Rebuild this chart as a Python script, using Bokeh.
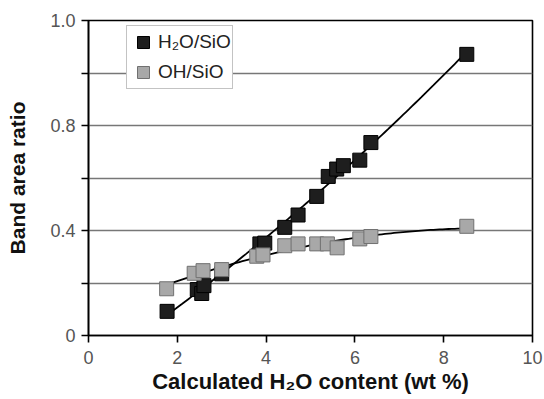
import numpy as np
from bokeh.plotting import figure
from bokeh.models import FixedTicker, Legend, LegendItem
from bokeh.embed import file_html
from bokeh.resources import INLINE

# H2O/SiO series (black squares)
h2o_x = [1.77, 2.45, 2.55, 2.60, 3.00, 3.86, 3.97, 4.42, 4.72, 5.14, 5.40, 5.59, 5.74, 6.11, 6.36, 8.52]
h2o_y = [0.092, 0.175, 0.160, 0.190, 0.235, 0.349, 0.352, 0.412, 0.459, 0.530, 0.606, 0.634, 0.647, 0.668, 0.735, 1.071]

# OH/SiO series (grey squares)
oh_x = [1.76, 2.38, 2.58, 3.00, 3.79, 3.93, 4.42, 4.72, 5.14, 5.38, 5.60, 6.11, 6.36, 8.52]
oh_y = [0.178, 0.237, 0.247, 0.251, 0.302, 0.307, 0.342, 0.349, 0.349, 0.349, 0.334, 0.368, 0.377, 0.416]

x_ticks = [0, 2, 4, 6, 8, 10]
y_ticks = [0, 0.2, 0.4, 0.6, 0.8, 1.0, 1.2]
y_tick_labels = ["0", "", "0.4", "", "0.8", "", "1.0"]

FONT = "Liberation Sans"

p = figure(frame_width=444, frame_height=315, output_backend="svg", toolbar_location=None,
           x_range=(0, 10), y_range=(0, 1.2),
           min_border_left=88, min_border_right=12, min_border_top=20, min_border_bottom=64)

p.background_fill_color = "white"
p.border_fill_color = "white"
p.outline_line_color = "black"
p.outline_line_width = 1.6

# grid
p.xgrid.visible = False
p.ygrid.ticker = FixedTicker(ticks=y_ticks)
p.ygrid.grid_line_color = "#777777"
p.ygrid.grid_line_width = 1.3

# axes
for ax in (p.xaxis[0], p.yaxis[0]):
    ax.axis_line_color = "black"
    ax.axis_line_width = 1.6
    ax.major_tick_line_color = "black"
    ax.major_tick_line_width = 1.6
    ax.major_tick_in = 0
    ax.major_tick_out = 7
    ax.minor_tick_line_color = None
    ax.major_label_text_font = FONT
    ax.major_label_text_font_size = "18px"
    ax.major_label_text_color = "#555555"
    ax.axis_label_text_font = FONT
    ax.axis_label_text_font_style = "bold"
    ax.axis_label_text_color = "#111111"

p.xaxis.ticker = FixedTicker(ticks=x_ticks)
p.yaxis.ticker = FixedTicker(ticks=y_ticks)
p.yaxis.major_label_overrides = {t: l for t, l in zip(y_ticks, y_tick_labels)}

p.xaxis.axis_label = "Calculated H\u2082O content (wt %)"
p.yaxis.axis_label = "Band area ratio"
p.xaxis.axis_label_text_font_size = "22px"
p.yaxis.axis_label_text_font_size = "21px"
p.xaxis.major_label_standoff = 8
p.yaxis.major_label_standoff = 6
p.xaxis.axis_label_standoff = 2
p.yaxis.axis_label_standoff = 18

# fit curves (quadratic least squares on the data)
hx = np.array(h2o_x); hy = np.array(h2o_y)
ox = np.array(oh_x); oy = np.array(oh_y)
ch = np.polyfit(hx, hy, 2)
co = np.polyfit(ox, oy, 2)
xs_h = np.linspace(hx.min(), hx.max(), 100)
xs_o = np.linspace(ox.min(), ox.max(), 100)
p.line(xs_h, np.polyval(ch, xs_h), line_color="black", line_width=1.8)
p.line(xs_o, np.polyval(co, xs_o), line_color="black", line_width=1.8)

r_h = p.scatter(h2o_x, h2o_y, marker="square", size=14, fill_color="#1e1e1e",
                line_color="#000000", line_width=1)
r_o = p.scatter(oh_x, oh_y, marker="square", size=14, fill_color="#a8a8a8",
                line_color="#707070", line_width=1)

legend = Legend(items=[LegendItem(label="H\u2082O/SiO", renderers=[r_h]),
                       LegendItem(label="OH/SiO", renderers=[r_o])],
                location=(38, 246))
legend.label_text_font = FONT
legend.label_text_font_size = "19px"
legend.label_text_color = "#222222"
legend.border_line_color = "#888888"
legend.border_line_width = 1.2
legend.background_fill_color = "white"
legend.background_fill_alpha = 1
legend.glyph_width = 30
legend.glyph_height = 30
legend.padding = 1
legend.spacing = 0
legend.label_standoff = 0
legend.margin = 0
p.add_layout(legend, "center")

open("out.html", "w").write(file_html(p, INLINE))
